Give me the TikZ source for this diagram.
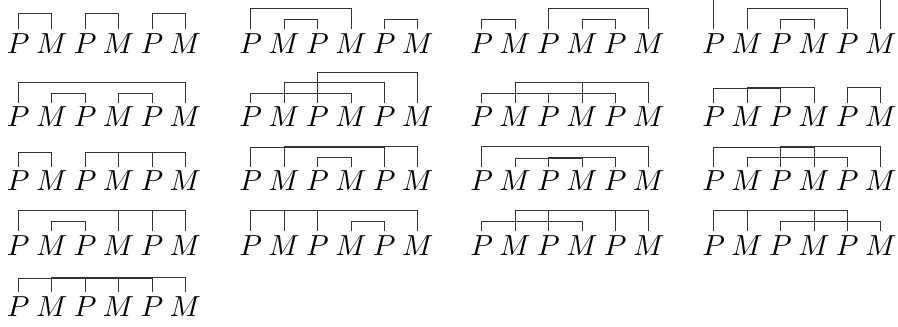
\documentclass[tikz,border=0pt]{standalone}
\usepackage{graphicx}
\newcommand\sixrow[3]{%
  \foreach \i/\l in {1/P,2/M,3/P,4/M,5/P,6/M}
    \node[lt] (#1\i) at ({#2+33.4*(\i-1)}, -#3) {\scalebox{2.9}{$\l$}};}
\newcommand\brk[4]{\draw[ln] (#1#3.north) -- ++(0,#2) -| (#1#4.north);}
\newcommand\tk[3]{\draw[ln] (#1#3.north) -- ++(0,#2);}
\begin{document}
\begin{tikzpicture}[x=1pt,y=1pt,
  lt/.style={inner xsep=0pt, inner ysep=3.6pt, text height=19.8pt, text depth=0pt,
    anchor=base},
  ln/.style={line width=0.8pt, black!80}]
\useasboundingbox (0,0) rectangle (898,-327);
% row 1
\sixrow{a}{18.3}{53}
\brk{a}{15.8}{1}{2}\brk{a}{15.8}{3}{4}\brk{a}{15.8}{5}{6}
\sixrow{b}{250.7}{53}
\brk{b}{21}{1}{4}\brk{b}{10}{2}{3}\brk{b}{10}{5}{6}
\sixrow{c}{481.7}{53}
\brk{c}{10}{1}{2}\brk{c}{21}{3}{6}\brk{c}{10}{4}{5}
\sixrow{d}{713.7}{53}
\brk{d}{32}{1}{6}\brk{d}{21}{2}{5}\brk{d}{10}{3}{4}
% row 2
\sixrow{e}{18.3}{126.7}
\brk{e}{21}{1}{6}\brk{e}{10}{2}{3}\brk{e}{10}{4}{5}
\sixrow{f}{250.7}{126.7}
\brk{f}{10}{1}{4}\brk{f}{20.6}{2}{5}\brk{f}{31}{3}{6}
\sixrow{g}{481.7}{126.7}
\brk{g}{10}{1}{5}\tk{g}{10}{3}\brk{g}{21}{2}{6}\tk{g}{21}{4}
\sixrow{h}{713.7}{126.7}
\brk{h}{15.2}{1}{3}\brk{h}{16}{2}{4}\brk{h}{15.6}{5}{6}
% row 3
\sixrow{i}{18.3}{190.7}
\brk{i}{14.6}{1}{2}\brk{i}{14.6}{3}{6}\tk{i}{14.6}{4}\tk{i}{14.6}{5}
\sixrow{j}{250.7}{190.7}
\brk{j}{20.2}{1}{5}\brk{j}{21}{2}{6}\brk{j}{9.6}{3}{4}
\sixrow{k}{481.7}{190.7}
\brk{k}{20.6}{1}{6}\brk{k}{9.2}{2}{4}\brk{k}{10}{3}{5}
\sixrow{l}{713.7}{190.7}
\brk{l}{20.2}{1}{4}\brk{l}{21}{3}{6}\brk{l}{9.6}{2}{5}
% row 4
\sixrow{m}{18.3}{255}
\brk{m}{20.6}{1}{6}\tk{m}{20.6}{4}\tk{m}{20.6}{5}\brk{m}{10.4}{2}{3}
\sixrow{n}{250.7}{255}
\brk{n}{20.6}{1}{6}\tk{n}{20.6}{2}\tk{n}{20.6}{3}\brk{n}{10.4}{4}{5}
\sixrow{o}{481.7}{255}
\brk{o}{10.4}{1}{4}\brk{o}{20.6}{2}{6}\tk{o}{20.6}{3}\tk{o}{20.6}{5}
\sixrow{p}{713.7}{255}
\brk{p}{20.6}{1}{5}\tk{p}{20.6}{2}\tk{p}{20.6}{4}\brk{p}{10.4}{3}{6}
% row 5
\sixrow{q}{18.3}{316}
\brk{q}{14.3}{1}{5}\tk{q}{14.3}{3}\brk{q}{15.1}{2}{6}\tk{q}{15.1}{4}
\end{tikzpicture}
\end{document}
